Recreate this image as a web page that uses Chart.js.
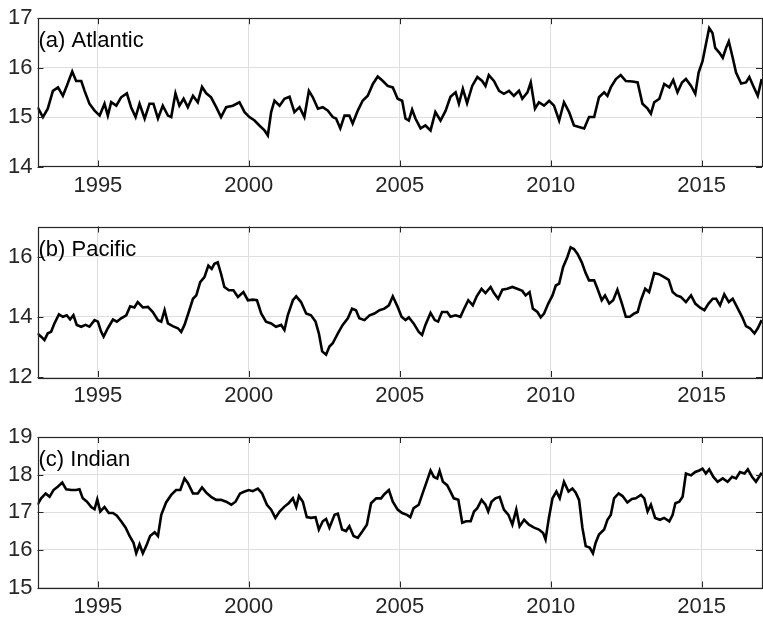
<!DOCTYPE html>
<html>
<head>
<meta charset="utf-8">
<script src="https://cdn.jsdelivr.net/npm/chart.js@4.4.1/dist/chart.umd.min.js"></script>
<style>
  html, body { margin: 0; padding: 0; background: #fff; }
  #wrap { position: relative; width: 763px; height: 618px; }
  #wrap canvas { position: absolute; left: 0; top: 0; }
</style>
</head>
<body>
<div id="wrap">
  <canvas id="atlantic" width="763" height="618"></canvas>
  <canvas id="pacific" width="763" height="618"></canvas>
  <canvas id="indian" width="763" height="618"></canvas>
</div>
<script>
// [year, value]
const atlantic = [
  [1993.00, 15.20], [1993.18, 15.00], [1993.34, 15.17], [1993.51, 15.53], [1993.68, 15.60],
  [1993.84, 15.43], [1993.97, 15.63], [1994.15, 15.92], [1994.28, 15.73], [1994.45, 15.73],
  [1994.56, 15.53], [1994.72, 15.27], [1994.89, 15.13], [1995.06, 15.03], [1995.22, 15.27],
  [1995.33, 15.03], [1995.44, 15.30], [1995.61, 15.23], [1995.77, 15.40], [1995.96, 15.48],
  [1996.10, 15.20], [1996.25, 15.00], [1996.38, 15.27], [1996.55, 14.97], [1996.71, 15.27],
  [1996.84, 15.27], [1996.99, 14.97], [1997.15, 15.23], [1997.32, 15.03], [1997.43, 15.00],
  [1997.57, 15.48], [1997.70, 15.23], [1997.84, 15.37], [1997.98, 15.20], [1998.15, 15.43],
  [1998.31, 15.30], [1998.45, 15.61], [1998.59, 15.48], [1998.75, 15.40], [1998.92, 15.20],
  [1999.08, 15.00], [1999.25, 15.20], [1999.47, 15.23], [1999.69, 15.30], [1999.86, 15.10],
  [2000.02, 15.00], [2000.19, 14.93], [2000.35, 14.83], [2000.52, 14.73], [2000.63, 14.63],
  [2000.74, 15.10], [2000.85, 15.33], [2001.02, 15.23], [2001.18, 15.37], [2001.35, 15.41],
  [2001.51, 15.10], [2001.68, 15.20], [2001.84, 15.00], [2001.99, 15.53], [2002.12, 15.40],
  [2002.29, 15.17], [2002.45, 15.20], [2002.62, 15.13], [2002.78, 15.00], [2002.89, 14.97],
  [2003.03, 14.77], [2003.17, 15.03], [2003.33, 15.03], [2003.44, 14.87], [2003.61, 15.13],
  [2003.77, 15.33], [2003.94, 15.43], [2004.11, 15.67], [2004.27, 15.82], [2004.44, 15.73],
  [2004.60, 15.63], [2004.77, 15.60], [2004.93, 15.37], [2005.08, 15.33], [2005.19, 14.97],
  [2005.30, 14.93], [2005.41, 15.15], [2005.52, 14.97], [2005.69, 14.77], [2005.85, 14.83],
  [2006.02, 14.73], [2006.18, 15.10], [2006.35, 14.93], [2006.52, 15.13], [2006.68, 15.41],
  [2006.85, 15.50], [2006.96, 15.27], [2007.09, 15.57], [2007.23, 15.28], [2007.40, 15.63],
  [2007.57, 15.81], [2007.73, 15.73], [2007.84, 15.63], [2007.95, 15.85], [2008.12, 15.73],
  [2008.29, 15.53], [2008.45, 15.47], [2008.62, 15.53], [2008.78, 15.43], [2008.95, 15.53],
  [2009.06, 15.37], [2009.23, 15.50], [2009.34, 15.70], [2009.48, 15.17], [2009.61, 15.30],
  [2009.78, 15.23], [2009.95, 15.33], [2010.11, 15.23], [2010.28, 14.93], [2010.44, 15.30],
  [2010.61, 15.10], [2010.77, 14.83], [2010.94, 14.80], [2011.11, 14.77], [2011.27, 15.00],
  [2011.44, 15.00], [2011.60, 15.40], [2011.77, 15.50], [2011.88, 15.43], [2011.99, 15.60],
  [2012.16, 15.77], [2012.32, 15.85], [2012.49, 15.73], [2012.71, 15.72], [2012.88, 15.70],
  [2013.04, 15.27], [2013.21, 15.17], [2013.32, 15.07], [2013.43, 15.30], [2013.60, 15.37],
  [2013.76, 15.67], [2013.93, 15.60], [2014.06, 15.75], [2014.20, 15.50], [2014.35, 15.70],
  [2014.48, 15.77], [2014.65, 15.63], [2014.79, 15.47], [2014.90, 15.90], [2015.03, 16.13],
  [2015.14, 16.47], [2015.25, 16.80], [2015.36, 16.70], [2015.45, 16.40], [2015.59, 16.30],
  [2015.70, 16.20], [2015.81, 16.40], [2015.90, 16.53], [2016.03, 16.20], [2016.14, 15.90],
  [2016.31, 15.68], [2016.47, 15.70], [2016.58, 15.81], [2016.71, 15.63], [2016.86, 15.43],
  [2016.99, 15.77]
];

const pacific = [
  [1993.00, 13.45], [1993.12, 13.34], [1993.23, 13.23], [1993.34, 13.45], [1993.45, 13.50],
  [1993.56, 13.78], [1993.71, 14.08], [1993.84, 14.00], [1993.97, 14.05], [1994.08, 13.91],
  [1994.19, 14.05], [1994.30, 13.73], [1994.45, 13.67], [1994.59, 13.73], [1994.72, 13.67],
  [1994.89, 13.89], [1995.00, 13.84], [1995.11, 13.50], [1995.19, 13.34], [1995.33, 13.62],
  [1995.50, 13.91], [1995.63, 13.84], [1995.77, 13.95], [1995.94, 14.05], [1996.07, 14.35],
  [1996.21, 14.31], [1996.32, 14.49], [1996.49, 14.31], [1996.66, 14.33], [1996.82, 14.16],
  [1996.99, 13.89], [1997.10, 13.84], [1997.21, 14.22], [1997.32, 13.78], [1997.48, 13.69],
  [1997.65, 13.62], [1997.76, 13.50], [1997.87, 13.73], [1998.01, 14.16], [1998.15, 14.60],
  [1998.26, 14.71], [1998.39, 15.15], [1998.53, 15.32], [1998.66, 15.70], [1998.77, 15.59],
  [1998.86, 15.76], [1998.97, 15.81], [1999.08, 15.43], [1999.19, 14.99], [1999.34, 14.88],
  [1999.49, 14.88], [1999.64, 14.66], [1999.82, 14.82], [1999.97, 14.55], [2000.13, 14.57],
  [2000.27, 14.55], [2000.41, 14.11], [2000.57, 13.84], [2000.74, 13.78], [2000.90, 13.67],
  [2001.07, 13.73], [2001.18, 13.56], [2001.29, 14.05], [2001.46, 14.55], [2001.57, 14.68],
  [2001.73, 14.49], [2001.90, 14.11], [2002.06, 14.05], [2002.21, 13.84], [2002.32, 13.45],
  [2002.43, 12.85], [2002.56, 12.74], [2002.67, 13.01], [2002.78, 13.12], [2002.95, 13.45],
  [2003.11, 13.73], [2003.28, 13.95], [2003.42, 14.27], [2003.55, 14.22], [2003.66, 13.95],
  [2003.83, 13.89], [2004.00, 14.05], [2004.16, 14.11], [2004.33, 14.22], [2004.49, 14.27],
  [2004.64, 14.38], [2004.77, 14.68], [2004.93, 14.33], [2005.06, 14.00], [2005.19, 13.89],
  [2005.30, 13.98], [2005.46, 13.78], [2005.63, 13.50], [2005.74, 13.40], [2005.85, 13.73],
  [2006.02, 14.13], [2006.16, 13.89], [2006.27, 13.84], [2006.40, 14.16], [2006.57, 14.16],
  [2006.68, 14.00], [2006.85, 14.05], [2007.01, 14.00], [2007.12, 14.24], [2007.27, 14.55],
  [2007.42, 14.38], [2007.55, 14.68], [2007.71, 14.93], [2007.84, 14.79], [2008.01, 14.99],
  [2008.12, 14.79], [2008.26, 14.60], [2008.40, 14.90], [2008.56, 14.93], [2008.73, 14.99],
  [2008.89, 14.93], [2009.06, 14.86], [2009.17, 14.71], [2009.30, 14.82], [2009.41, 14.27],
  [2009.56, 14.16], [2009.67, 13.98], [2009.78, 14.11], [2009.92, 14.44], [2010.06, 14.71],
  [2010.17, 15.04], [2010.28, 15.10], [2010.41, 15.65], [2010.55, 15.98], [2010.66, 16.31],
  [2010.77, 16.25], [2010.89, 16.09], [2011.03, 15.81], [2011.16, 15.45], [2011.27, 15.21],
  [2011.44, 15.21], [2011.55, 14.93], [2011.69, 14.55], [2011.80, 14.71], [2011.94, 14.44],
  [2012.07, 14.55], [2012.21, 14.90], [2012.36, 14.44], [2012.49, 14.00], [2012.62, 14.00],
  [2012.77, 14.11], [2012.88, 14.16], [2012.99, 14.55], [2013.13, 14.93], [2013.26, 14.82],
  [2013.43, 15.45], [2013.60, 15.41], [2013.76, 15.32], [2013.91, 15.23], [2014.04, 14.82],
  [2014.17, 14.71], [2014.31, 14.66], [2014.48, 14.49], [2014.65, 14.71], [2014.79, 14.44],
  [2014.94, 14.31], [2015.09, 14.22], [2015.23, 14.44], [2015.37, 14.60], [2015.48, 14.60],
  [2015.61, 14.38], [2015.75, 14.75], [2015.90, 14.49], [2016.03, 14.60], [2016.20, 14.27],
  [2016.34, 14.00], [2016.47, 13.69], [2016.60, 13.62], [2016.75, 13.45], [2016.86, 13.62],
  [2016.99, 13.89]
];

const indian = [
  [1993.00, 17.20], [1993.12, 17.37], [1993.27, 17.50], [1993.40, 17.41], [1993.53, 17.59],
  [1993.67, 17.68], [1993.82, 17.79], [1993.95, 17.61], [1994.12, 17.59], [1994.28, 17.59],
  [1994.39, 17.61], [1994.50, 17.37], [1994.64, 17.28], [1994.78, 17.14], [1994.89, 17.08],
  [1994.98, 17.34], [1995.08, 17.02], [1995.22, 17.14], [1995.36, 16.98], [1995.50, 16.98],
  [1995.63, 16.91], [1995.77, 16.76], [1995.92, 16.59], [1996.05, 16.37], [1996.18, 16.19],
  [1996.27, 15.91], [1996.38, 16.15], [1996.49, 15.91], [1996.60, 16.10], [1996.73, 16.37],
  [1996.88, 16.47], [1996.99, 16.37], [1997.10, 16.93], [1997.26, 17.26], [1997.43, 17.46],
  [1997.59, 17.59], [1997.73, 17.59], [1997.87, 17.90], [1997.98, 17.78], [1998.15, 17.50],
  [1998.31, 17.50], [1998.45, 17.66], [1998.59, 17.52], [1998.75, 17.41], [1998.92, 17.33],
  [1999.08, 17.33], [1999.25, 17.28], [1999.42, 17.20], [1999.56, 17.28], [1999.71, 17.50],
  [1999.86, 17.55], [2000.00, 17.59], [2000.13, 17.56], [2000.30, 17.63], [2000.44, 17.50],
  [2000.60, 17.20], [2000.74, 17.07], [2000.88, 16.85], [2001.02, 17.02], [2001.18, 17.15],
  [2001.32, 17.24], [2001.46, 17.37], [2001.57, 17.14], [2001.66, 17.43], [2001.79, 17.28],
  [2001.92, 16.87], [2002.06, 16.85], [2002.21, 16.87], [2002.32, 16.54], [2002.45, 16.76],
  [2002.56, 16.82], [2002.67, 16.59], [2002.84, 16.93], [2002.95, 16.96], [2003.09, 16.54],
  [2003.22, 16.50], [2003.33, 16.63], [2003.47, 16.37], [2003.61, 16.32], [2003.77, 16.50],
  [2003.91, 16.67], [2004.05, 17.24], [2004.22, 17.37], [2004.38, 17.37], [2004.49, 17.48],
  [2004.64, 17.59], [2004.77, 17.28], [2004.93, 17.07], [2005.08, 16.98], [2005.24, 16.93],
  [2005.35, 16.87], [2005.46, 17.11], [2005.63, 17.20], [2005.74, 17.46], [2005.87, 17.76],
  [2006.02, 18.11], [2006.13, 17.94], [2006.24, 17.90], [2006.32, 18.10], [2006.43, 17.81],
  [2006.57, 17.72], [2006.68, 17.55], [2006.79, 17.37], [2006.94, 17.33], [2007.07, 16.72],
  [2007.20, 16.76], [2007.35, 16.76], [2007.46, 17.02], [2007.57, 17.11], [2007.71, 17.33],
  [2007.84, 17.20], [2007.93, 17.02], [2008.04, 17.28], [2008.17, 17.37], [2008.31, 17.41],
  [2008.45, 17.07], [2008.60, 16.93], [2008.73, 16.67], [2008.86, 17.07], [2008.97, 16.63],
  [2009.12, 16.80], [2009.28, 16.67], [2009.45, 16.59], [2009.61, 16.54], [2009.75, 16.45],
  [2009.83, 16.28], [2009.94, 16.85], [2010.06, 17.37], [2010.19, 17.55], [2010.30, 17.37],
  [2010.44, 17.81], [2010.59, 17.55], [2010.72, 17.63], [2010.83, 17.52], [2010.94, 17.33],
  [2011.05, 16.59], [2011.16, 16.10], [2011.29, 16.06], [2011.40, 15.91], [2011.49, 16.19],
  [2011.60, 16.41], [2011.77, 16.54], [2011.88, 16.80], [2011.99, 16.93], [2012.10, 17.37],
  [2012.25, 17.50], [2012.38, 17.43], [2012.54, 17.26], [2012.69, 17.35], [2012.82, 17.37],
  [2012.99, 17.46], [2013.10, 17.37], [2013.21, 17.02], [2013.32, 17.20], [2013.46, 16.85],
  [2013.62, 16.80], [2013.76, 16.85], [2013.93, 16.76], [2014.04, 16.93], [2014.13, 17.24],
  [2014.26, 17.28], [2014.37, 17.41], [2014.48, 18.03], [2014.65, 17.98], [2014.79, 18.07],
  [2014.92, 18.11], [2015.03, 18.16], [2015.14, 18.03], [2015.25, 18.14], [2015.39, 17.94],
  [2015.53, 17.81], [2015.70, 17.90], [2015.86, 17.81], [2016.01, 17.94], [2016.14, 17.90],
  [2016.27, 18.07], [2016.42, 18.03], [2016.53, 18.14], [2016.67, 17.94], [2016.80, 17.81],
  [2016.99, 18.05]
];

const xTicks = [1995, 2000, 2005, 2010, 2015];
const atlanticTicks = [14, 15, 16, 17];
const pacificTicks = [12, 14, 16];
const indianTicks = [15, 16, 17, 18, 19];

const FONT = { family: '"Liberation Sans", Arial, Helvetica, sans-serif', size: 22 };
const AXIS_COLOR = '#262626';
const GRID_COLOR = '#dedede';
const TICK_LEN = 6;
const X_AXIS_H = 32;

// box, inward ticks and panel title, matlab style
const frame = {
  id: 'frame',
  afterDatasetsDraw(chart, args, opts) {
    const { ctx, chartArea: a, scales: { x, y } } = chart;
    ctx.save();
    ctx.strokeStyle = AXIS_COLOR;
    ctx.lineWidth = 1;
    ctx.beginPath();
    x.ticks.forEach(t => {
      const px = Math.round(x.getPixelForValue(t.value)) + 0.5;
      ctx.moveTo(px, a.bottom); ctx.lineTo(px, a.bottom - TICK_LEN);
      ctx.moveTo(px, a.top); ctx.lineTo(px, a.top + TICK_LEN);
    });
    y.ticks.forEach(t => {
      const py = Math.round(y.getPixelForValue(t.value)) + 0.5;
      ctx.moveTo(a.left, py); ctx.lineTo(a.left + TICK_LEN, py);
      ctx.moveTo(a.right, py); ctx.lineTo(a.right - TICK_LEN, py);
    });
    ctx.stroke();
    ctx.lineWidth = 1.2;
    ctx.strokeRect(Math.round(a.left) + 0.5, Math.round(a.top) + 0.5,
      Math.round(a.right - a.left) - 1, Math.round(a.bottom - a.top));
    ctx.fillStyle = '#000';
    ctx.font = `${FONT.size}px ${FONT.family}`;
    ctx.textBaseline = 'middle';
    ctx.textAlign = 'left';
    ctx.fillText(opts.label, a.left + 1, a.top + 23);
    ctx.restore();
  }
};

function makePanel(id, label, series, yMin, yMax, yTicks, top, bottom) {
  return new Chart(document.getElementById(id), {
    type: 'line',
    data: {
      datasets: [{
        data: series.map(([yr, v]) => ({ x: yr, y: v })),
        borderColor: '#000',
        borderWidth: 2.6,
        pointRadius: 0,
        tension: 0,
        fill: false,
      }],
    },
    options: {
      responsive: false,
      animation: false,
      events: [],
      layout: { padding: { left: 0, right: 1, top: top, bottom: 618 - bottom - X_AXIS_H } },
      plugins: {
        legend: { display: false },
        tooltip: { enabled: false },
        frame: { label },
      },
      scales: {
        x: {
          type: 'linear',
          min: 1993,
          max: 2017,
          afterBuildTicks: s => { s.ticks = xTicks.map(v => ({ value: v })); },
          afterFit: s => { s.height = X_AXIS_H; },
          grid: { color: GRID_COLOR, lineWidth: 1, drawTicks: false },
          border: { display: false },
          ticks: {
            font: FONT, color: AXIS_COLOR, padding: 6, maxRotation: 0, autoSkip: false,
            callback: v => String(v),
          },
        },
        y: {
          min: yMin,
          max: yMax,
          afterBuildTicks: s => { s.ticks = yTicks.map(v => ({ value: v })); },
          afterFit: s => { s.width = 37.5; },
          grid: { color: GRID_COLOR, lineWidth: 1, drawTicks: false },
          border: { display: false },
          ticks: { font: FONT, color: AXIS_COLOR, padding: 5, autoSkip: false, callback: v => String(v) },
        },
      },
    },
    plugins: [frame],
  });
}

makePanel('atlantic', '(a) Atlantic', atlantic, 14, 17, atlanticTicks, 16, 166.5);
makePanel('pacific', '(b) Pacific', pacific, 12, 17, pacificTicks, 226.5, 377);
makePanel('indian', '(c) Indian', indian, 15, 19, indianTicks, 437, 587.5);
</script>
</body>
</html>
